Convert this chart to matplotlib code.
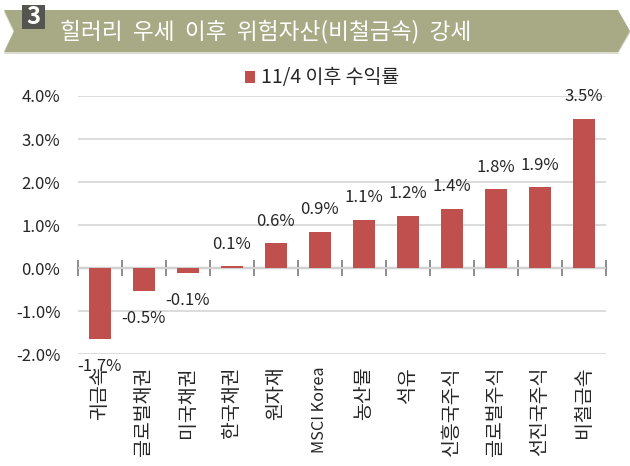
import matplotlib
matplotlib.use("Agg")
import matplotlib.pyplot as plt
from matplotlib.patches import Polygon, Rectangle

plt.rcParams['font.family'] = ['Noto Sans CJK KR', 'DejaVu Sans']

title = "힐러리  우세  이후  위험자산(비철금속)  강세"
badge = "3"
series_name = "11/4 이후 수익률"
categories = ["귀금속", "글로벌채권", "미국채권", "한국채권", "원자재", "MSCI Korea",
              "농산물", "석유", "신흥국주식", "글로벌주식", "선진국주식", "비철금속"]
values = [-1.65, -0.53, -0.12, 0.04, 0.58, 0.85, 1.12, 1.22, 1.38, 1.83, 1.88, 3.47]
value_labels = ["-1.7%", "-0.5%", "-0.1%", "0.1%", "0.6%", "0.9%",
                "1.1%", "1.2%", "1.4%", "1.8%", "1.9%", "3.5%"]
y_ticks = [-2, -1, 0, 1, 2, 3, 4]
y_tick_labels = ["-2.0%", "-1.0%", "0.0%", "1.0%", "2.0%", "3.0%", "4.0%"]

W, H = 630, 466
TEXT = "#262626"
fig = plt.figure(figsize=(W / 100, H / 100), dpi=100, facecolor="white")

# banner overlay in pixel coordinates
ov = fig.add_axes([0, 0, 1, 1], zorder=0)
ov.set_xlim(0, W); ov.set_ylim(H, 0); ov.axis("off")
ov.add_patch(Polygon([(4, 12), (618, 12), (630, 33), (618, 54), (4, 54), (14, 33)],
                     closed=True, fc="#dcdcd0", ec="none"))
ov.add_patch(Polygon([(4, 10), (618, 10), (630, 31), (618, 52), (4, 52), (14, 31)],
                     closed=True, fc="#a8aa86", ec="none"))
ov.add_patch(Rectangle((22, 5), 23, 24, fc="#55554f", ec="none"))
ov.text(33.5, 17, badge, color="white", fontsize=17, fontweight="bold", ha="center", va="center")
ov.text(60, 32, title, color="white", fontsize=16.3, ha="left", va="center")

# chart
left, right, top, bottom = 77.5, 605.5, 96, 354.3
ax = fig.add_axes([left / W, 1 - bottom / H, (right - left) / W, (bottom - top) / H], zorder=1)
ax.patch.set_alpha(0)
x = list(range(len(categories)))
bars = ax.bar(x, values, width=0.5, color="#c0504d", zorder=3, label=series_name)
ax.set_xlim(-0.5, len(categories) - 0.5)
ax.set_ylim(-2, 4)

for s in ax.spines.values():
    s.set_visible(False)
ax.set_yticks(y_ticks, y_tick_labels, fontsize=12, color=TEXT)
ax.tick_params(axis="y", length=0, pad=12.4)
ax.grid(axis="y", color="#d9d9d9", lw=1.3, zorder=1)
ax.set_axisbelow(True)
ax.set_xticks(x, categories, rotation=90, fontsize=14, color=TEXT)
ax.tick_params(axis="x", length=0, pad=9)
for t in ax.get_xticklabels():
    if t.get_text().isascii():
        t.set_fontsize(11.7)

# zero axis with tick marks between the categories
sec = ax.secondary_xaxis(2 / 6)
sec.set_xticks([i - 0.5 for i in range(len(categories) + 1)], [""] * (len(categories) + 1))
sec.tick_params(axis="x", direction="inout", length=11, width=1.4, color="#8c8c8c")
sec.spines["bottom"].set_color("#8c8c8c")
sec.spines["bottom"].set_linewidth(1.6)

for xi, v, lab in zip(x, values, value_labels):
    off = 22 if v >= 0 else -27
    ax.annotate(lab, (xi, v), xytext=(0, off), textcoords="offset pixels", ha="center",
                va="center", fontsize=12, color=TEXT, annotation_clip=False, zorder=5)

ax.legend(loc="center", bbox_to_anchor=(322 / W, 1 - 78 / H), bbox_transform=fig.transFigure,
          frameon=False, fontsize=14, handlelength=0.56, handleheight=0.56, handletextpad=0.3,
          labelcolor=TEXT)

fig.savefig("out.png", dpi=100)
